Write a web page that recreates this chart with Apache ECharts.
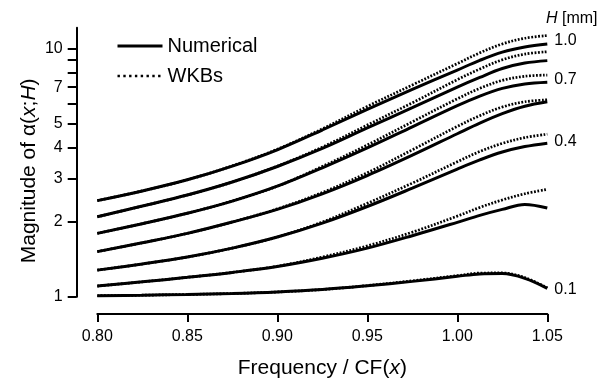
<!DOCTYPE html>
<html>
<head>
<meta charset="utf-8">
<script src="https://cdn.jsdelivr.net/npm/echarts@6/dist/echarts.min.js"></script>
<style>
html,body{margin:0;padding:0;background:#fff;}
#chart{width:611px;height:391px;}
</style>
</head>
<body>
<div id="chart"></div>
<script>
// ---- data ----
const freq = [0.80, 0.825, 0.85, 0.875, 0.90, 0.925, 0.95, 0.975, 1.00, 1.0125, 1.025, 1.0375, 1.05];

const hLabels = ['1.0', '0.85', '0.7', '0.55', '0.4', '0.25', '0.1'];

const numerical_H100 = [2.44, 2.67, 2.96, 3.36, 3.91, 4.70, 5.69, 6.85, 8.20, 8.97, 9.68, 10.16, 10.45];
const wkb_H100       = [2.44, 2.67, 2.96, 3.37, 3.93, 4.75, 5.85, 7.14, 8.71, 9.62, 10.45, 11.02, 11.30];
const numerical_H085 = [2.10, 2.32, 2.57, 2.90, 3.35, 3.96, 4.79, 5.78, 7.00, 7.66, 8.32, 8.75, 8.95];
const wkb_H085       = [2.10, 2.32, 2.57, 2.90, 3.36, 4.01, 4.92, 6.05, 7.50, 8.28, 9.02, 9.51, 9.72];
const numerical_H070 = [1.80, 1.97, 2.17, 2.43, 2.79, 3.31, 3.98, 4.84, 5.89, 6.44, 6.92, 7.21, 7.33];
const wkb_H070       = [1.80, 1.97, 2.17, 2.43, 2.79, 3.35, 4.09, 5.07, 6.28, 6.92, 7.45, 7.74, 7.83];
const numerical_H055 = [1.52, 1.65, 1.80, 2.00, 2.25, 2.60, 3.08, 3.72, 4.54, 5.01, 5.47, 5.86, 6.11];
const wkb_H055       = [1.52, 1.65, 1.80, 2.00, 2.26, 2.63, 3.16, 3.91, 4.86, 5.37, 5.82, 6.11, 6.22];
const numerical_H040 = [1.28, 1.355, 1.445, 1.57, 1.74, 1.98, 2.31, 2.74, 3.27, 3.56, 3.83, 4.03, 4.16];
const wkb_H040       = [1.28, 1.355, 1.445, 1.57, 1.74, 2.00, 2.38, 2.87, 3.50, 3.85, 4.15, 4.38, 4.52];
const numerical_H025 = [1.104, 1.148, 1.197, 1.253, 1.324, 1.429, 1.570, 1.762, 1.995, 2.128, 2.249, 2.355, 2.280];
const wkb_H025       = [1.104, 1.148, 1.197, 1.253, 1.327, 1.445, 1.603, 1.820, 2.113, 2.291, 2.455, 2.600, 2.710];
const numerical_H010 = [1.009, 1.014, 1.021, 1.030, 1.045, 1.069, 1.107, 1.153, 1.208, 1.236, 1.239, 1.186, 1.081];
const wkb_H010       = [1.009, 1.014, 1.021, 1.030, 1.045, 1.069, 1.109, 1.159, 1.216, 1.245, 1.247, 1.194, 1.086];

const yTickValues = [1, 2, 3, 4, 5, 6, 7, 8, 9, 10];
const yTickLabels = [1, 2, 3, 4, 5, 7, 10];
const xMin = 0.80, xMax = 1.05, xStep = 0.05;
const yMin = 0.8517, yMax = 12.15;

// ---- chart ----
const FONT = "'Liberation Sans', Arial, Helvetica, sans-serif";
const numSets = [numerical_H100, numerical_H085, numerical_H070, numerical_H055, numerical_H040, numerical_H025, numerical_H010];
const wkbSets = [wkb_H100, wkb_H085, wkb_H070, wkb_H055, wkb_H040, wkb_H025, wkb_H010];
const pairs = arr => freq.map((f, i) => [f, arr[i]]);

const labelled = {'1.0': 'wkb', '0.7': 'wkb', '0.4': 'wkb', '0.1': 'num'};

function endLabel(h, kind, dy) {
  if (labelled[h] !== kind) return {show: false};
  return {
    show: true, formatter: h, distance: 7, offset: [0, dy],
    color: '#000', fontFamily: FONT, fontSize: 16
  };
}

const series = [];
hLabels.forEach((h, k) => {
  series.push({
    name: 'Numerical', type: 'line', xAxisIndex: 0, yAxisIndex: 0,
    data: pairs(numSets[k]), smooth: 0.35, symbol: 'none', silent: true,
    itemStyle: {color: '#000'},
    lineStyle: {color: '#000', width: 3, type: 'solid'},
    endLabel: endLabel(h, 'num', 1), z: 2
  });
  series.push({
    name: 'WKBs', type: 'line', xAxisIndex: 0, yAxisIndex: 0,
    data: pairs(wkbSets[k]), smooth: 0.35, symbol: 'none', silent: true,
    itemStyle: {color: '#000'},
    lineStyle: {color: '#000', width: 2.7, type: [1.8, 1.6]},
    endLabel: endLabel(h, 'wkb', h === '0.4' ? 7 : 5), z: 3
  });
});

const chart = echarts.init(document.getElementById('chart'), null, {renderer: 'canvas'});
chart.setOption({
  animation: false,
  backgroundColor: '#fff',
  textStyle: {fontFamily: FONT, color: '#000'},
  title: {
    text: '{i|H} [mm]', left: 541, top: 6,
    textStyle: {fontFamily: FONT, fontSize: 16, fontWeight: 'normal', color: '#000',
      rich: {i: {fontStyle: 'italic', fontFamily: FONT, fontSize: 16, color: '#000'}}}
  },
  legend: {
    orient: 'vertical', left: 111, top: 31, itemWidth: 45, itemHeight: 14, itemGap: 10,
    textStyle: {fontFamily: FONT, fontSize: 20, color: '#000', lineHeight: 20},
    itemStyle: {opacity: 0},
    selectedMode: false,
    data: [
      {name: 'Numerical', lineStyle: {color: '#000', width: 3, type: 'solid'}},
      {name: 'WKBs', lineStyle: {color: '#000', width: 2.6, type: [2.4, 3.4]}}
    ]
  },
  grid: [
    {left: 97.3, right: 63.7, top: 27.7, bottom: 77, containLabel: false},
    {left: 76.7, width: 10, top: 27.7, bottom: 94.3, containLabel: false}
  ],
  xAxis: [
    {
      type: 'value', gridIndex: 0, min: xMin, max: xMax, interval: xStep,
      axisLine: {show: true, onZero: false, lineStyle: {color: '#000', width: 2}},
      axisTick: {show: true, inside: false, length: 8, lineStyle: {color: '#000', width: 2}},
      axisLabel: {show: true, margin: 15, fontSize: 16, color: '#000', fontFamily: FONT,
        formatter: v => v.toFixed(2)},
      splitLine: {show: false},
      name: 'Frequency / CF({i|x})', nameLocation: 'middle', nameGap: 44,
      nameTextStyle: {fontFamily: FONT, fontSize: 21, color: '#000',
        rich: {i: {fontStyle: 'italic', fontFamily: FONT, fontSize: 21, color: '#000'}}}
    },
    {type: 'value', gridIndex: 1, show: false, min: 0, max: 1}
  ],
  yAxis: [
    {
      type: 'log', logBase: 10, gridIndex: 0, min: yMin, max: yMax,
      axisLine: {show: false}, axisTick: {show: false}, axisLabel: {show: false},
      splitLine: {show: false},
      name: 'Magnitude of α({i|x};{i|H})', nameLocation: 'middle', nameGap: 58,
      nameTextStyle: {fontFamily: FONT, fontSize: 21, color: '#000',
        rich: {i: {fontStyle: 'italic', fontFamily: FONT, fontSize: 21, color: '#000'}}}
    },
    {
      type: 'value', gridIndex: 1, position: 'left', min: 0, max: Math.log10(yMax),
      axisLine: {show: true, lineStyle: {color: '#000', width: 2}},
      axisTick: {show: true, inside: false, length: 9, lineStyle: {color: '#000', width: 2},
        customValues: yTickValues.map(v => Math.log10(v))},
      axisLabel: {show: true, margin: 14, fontSize: 16, color: '#000', fontFamily: FONT,
        customValues: yTickLabels.map(v => Math.log10(v)),
        formatter: v => String(Math.round(Math.pow(10, v)))},
      splitLine: {show: false}
    }
  ],
  series: series
});
</script>
</body>
</html>
